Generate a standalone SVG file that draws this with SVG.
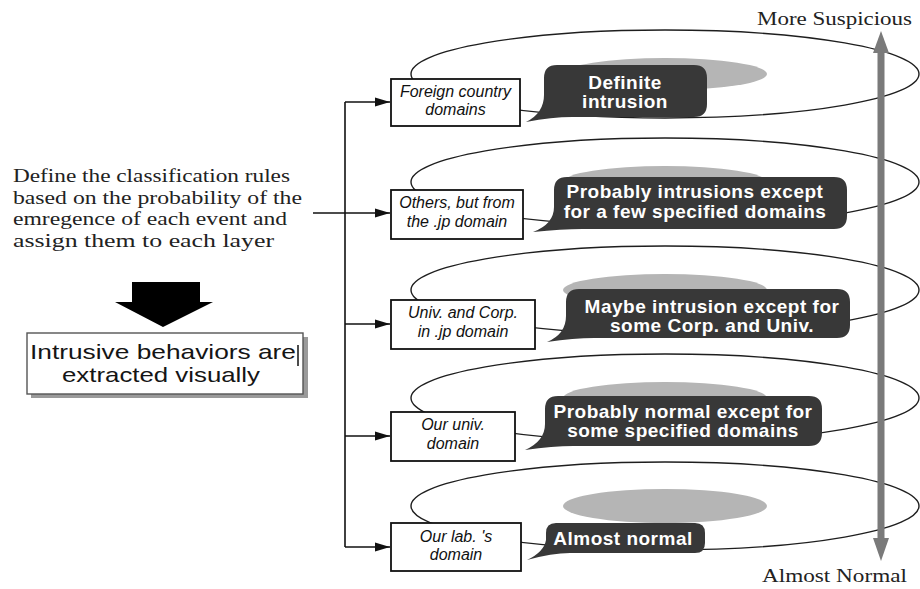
<svg xmlns="http://www.w3.org/2000/svg" width="920" height="589" viewBox="0 0 920 589">
  <defs>
    <style>
      .ring { fill: none; stroke: #1e1e1e; stroke-width: 1.4; }
      .halo { fill: #b5b5b5; }
      .bubble { fill: #383838; }
      .btext { font-family: "Liberation Sans", Arial, sans-serif; font-size: 19px; letter-spacing: 0.5px; font-weight: bold; fill: #ffffff; text-anchor: middle; }
      .box { fill: #ffffff; stroke: #111111; stroke-width: 1.8; }
      .ltext { font-family: "Liberation Sans", Arial, sans-serif; font-size: 16px; font-style: italic; fill: #111111; text-anchor: middle; }
      .serif { font-family: "Liberation Serif", "Times New Roman", serif; font-size: 19px; fill: #222222; }
      .link { fill: none; stroke: #111111; stroke-width: 1.6; }
    </style>
    <marker id="head" markerUnits="userSpaceOnUse" markerWidth="15" markerHeight="10" refX="15" refY="5" orient="auto">
      <path d="M0,0.5 L15,5 L0,9.5 Z" fill="#111111"/>
    </marker>
  </defs>

  <rect width="920" height="589" fill="#ffffff"/>

  <!-- layer rings and their grey cores -->
  <g id="rings">
    <ellipse class="ring" cx="665" cy="74" rx="254" ry="44"/>
    <ellipse class="ring" cx="665" cy="182" rx="254" ry="44"/>
    <ellipse class="ring" cx="665" cy="290" rx="254" ry="44"/>
    <ellipse class="ring" cx="665" cy="398" rx="254" ry="44"/>
    <ellipse class="ring" cx="665" cy="506" rx="254" ry="44"/>
    <ellipse class="halo" cx="665" cy="74" rx="102" ry="16"/>
    <ellipse class="halo" cx="665" cy="182" rx="102" ry="16"/>
    <ellipse class="halo" cx="665" cy="290" rx="102" ry="16"/>
    <ellipse class="halo" cx="665" cy="398" rx="102" ry="16"/>
    <ellipse class="halo" cx="665" cy="506" rx="102" ry="17"/>
  </g>

  <!-- speech bubbles -->
  <g id="bubble-1">
    <path class="bubble" d="M557,65 H694 Q707,65 707,78 V104 Q707,117 694,117 H572 Q552,117 526,122 Q544,113 544,95 V78 Q544,65 557,65 Z"/>
    <text class="btext" x="625" y="89">Definite</text>
    <text class="btext" x="625" y="108">intrusion</text>
  </g>
  <g id="bubble-2">
    <path class="bubble" d="M567,177 H834 Q847,177 847,190 V216 Q847,229 834,229 H582 Q562,229 533,232 Q554,224 554,207 V190 Q554,177 567,177 Z"/>
    <text class="btext" x="695" y="198">Probably intrusions except</text>
    <text class="btext" x="695" y="218">for a few specified domains</text>
  </g>
  <g id="bubble-3">
    <path class="bubble" d="M579,289 H837 Q850,289 850,302 V325 Q850,338 837,338 H594 Q574,338 547,342 Q566,334 566,316 V302 Q566,289 579,289 Z"/>
    <text class="btext" x="712" y="313">Maybe intrusion except for</text>
    <text class="btext" x="712" y="332">some Corp. and Univ.</text>
  </g>
  <g id="bubble-4">
    <path class="bubble" d="M558,396 H809 Q822,396 822,409 V433 Q822,446 809,446 H573 Q553,446 525,450 Q545,441 545,424 V409 Q545,396 558,396 Z"/>
    <text class="btext" x="683" y="418">Probably normal except for</text>
    <text class="btext" x="683" y="437">some specified domains</text>
  </g>
  <g id="bubble-5">
    <path class="bubble" d="M556,523 H695 Q705,523 705,533 V543 Q705,553 695,553 H570 Q552,553 527,560 Q544,552 546,540 V533 Q546,523 556,523 Z"/>
    <text class="btext" x="623" y="545">Almost normal</text>
  </g>

  <!-- domain boxes -->
  <g id="box-foreign">
    <rect class="box" x="391" y="79" width="129" height="47"/>
    <text class="ltext" x="455.5" y="97">Foreign country</text>
    <text class="ltext" x="455.5" y="115">domains</text>
  </g>
  <g id="box-jp-others">
    <rect class="box" x="391" y="190" width="132" height="49"/>
    <text class="ltext" x="457" y="208">Others, but from</text>
    <text class="ltext" x="457" y="227">the .jp domain</text>
  </g>
  <g id="box-jp-univ-corp">
    <rect class="box" x="391" y="300" width="144" height="49"/>
    <text class="ltext" x="463" y="318">Univ. and Corp.</text>
    <text class="ltext" x="463" y="337">in .jp domain</text>
  </g>
  <g id="box-our-univ">
    <rect class="box" x="391" y="412" width="124" height="49"/>
    <text class="ltext" x="453" y="430">Our univ.</text>
    <text class="ltext" x="453" y="449">domain</text>
  </g>
  <g id="box-our-lab">
    <rect class="box" x="391" y="523" width="130" height="48"/>
    <text class="ltext" x="456" y="542">Our lab. 's</text>
    <text class="ltext" x="456" y="560">domain</text>
  </g>

  <!-- distribution connectors -->
  <g id="connectors">
    <path class="link" d="M345,102 V547"/>
    <path class="link" d="M345,102 H390" marker-end="url(#head)"/>
    <path class="link" d="M313,213 H390" marker-end="url(#head)"/>
    <path class="link" d="M345,324 H390" marker-end="url(#head)"/>
    <path class="link" d="M345,436 H390" marker-end="url(#head)"/>
    <path class="link" d="M345,547 H390" marker-end="url(#head)"/>
  </g>

  <!-- suspicion scale -->
  <g id="scale">
    <rect x="877.5" y="50" width="7" height="490" fill="#7a7a7a"/>
    <path d="M881,31 L889,53 L873,53 Z" fill="#7a7a7a"/>
    <path d="M881,561 L889,538 L873,538 Z" fill="#7a7a7a"/>
    <text class="serif" x="757" y="25" font-size="18" textLength="155" lengthAdjust="spacingAndGlyphs">More Suspicious</text>
    <text class="serif" x="762" y="582" font-size="18" textLength="145" lengthAdjust="spacingAndGlyphs">Almost Normal</text>
  </g>

  <!-- rule description -->
  <g id="rules-text">
    <text class="serif" x="13" y="182" textLength="277" lengthAdjust="spacingAndGlyphs">Define the classification rules</text>
    <text class="serif" x="13" y="203.5" textLength="289" lengthAdjust="spacingAndGlyphs">based on the probability of the</text>
    <text class="serif" x="13" y="225" textLength="274" lengthAdjust="spacingAndGlyphs">emregence of each event and</text>
    <text class="serif" x="13" y="247" textLength="261" lengthAdjust="spacingAndGlyphs">assign them to each layer</text>
  </g>

  <g id="down-arrow">
    <path d="M132,282 H200 V302 H213 L163,327 L115,302 H132 Z" fill="#000000"/>
  </g>

  <g id="result-box">
    <rect x="31" y="337" width="277" height="61" fill="#9a9a9a"/>
    <rect x="27" y="333" width="276" height="61" fill="#ffffff" stroke="#555555" stroke-width="1.4"/>
    <text x="30" y="359" font-family="'Liberation Sans', Arial, sans-serif" font-size="21" fill="#151515" textLength="266" lengthAdjust="spacingAndGlyphs">Intrusive behaviors are</text>
    <line x1="298" y1="345" x2="298" y2="366" stroke="#111111" stroke-width="1.5"/>
    <text x="62" y="382" font-family="'Liberation Sans', Arial, sans-serif" font-size="21" fill="#151515" textLength="198" lengthAdjust="spacingAndGlyphs">extracted visually</text>
  </g>
</svg>
